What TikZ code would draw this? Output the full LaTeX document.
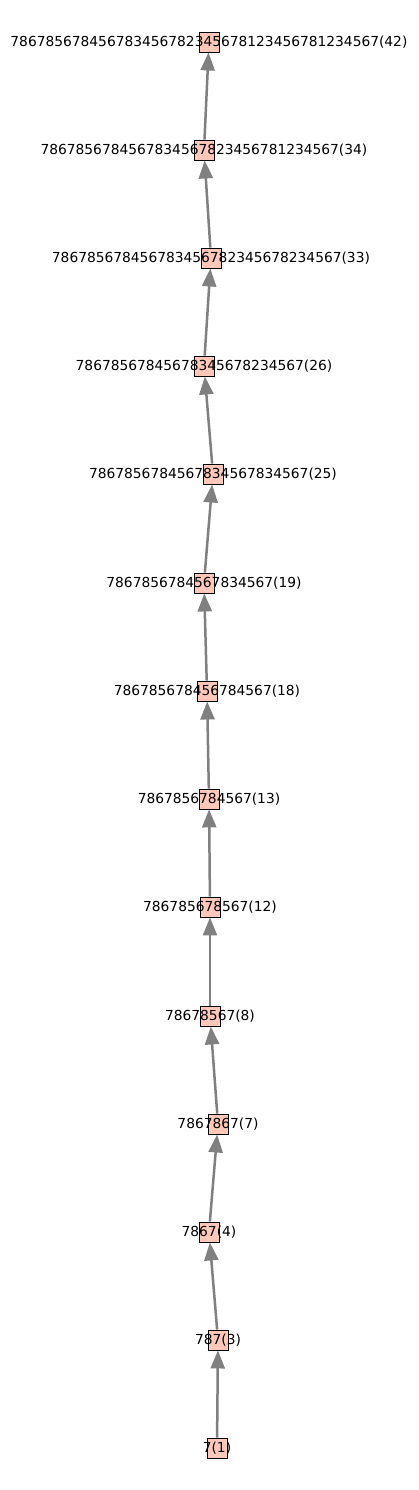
\documentclass[tikz,border=0pt]{standalone}
\usepackage{fontspec}
\setmainfont{DejaVu Sans}
\usetikzlibrary{arrows.meta}
\definecolor{boxfill}{RGB}{255,200,185}
\begin{document}
\begin{tikzpicture}[x=1pt, y=-1pt,
	vtx/.style={draw=black, fill=boxfill, line width=0.9pt, minimum size=20pt, inner sep=0pt},
	lbl/.style={font=\fontsize{13.8}{16}\selectfont, inner sep=0pt},
	edge/.style={draw=gray, line width=2.5pt, -{Triangle[width=14pt, length=18pt]}}]
	\useasboundingbox (0,0) rectangle (418,1490);
	
	\node[vtx, label={[lbl]center:7(1)}] (n1) at (217, 1448) {};
	\node[vtx, label={[lbl]center:787(3)}] (n3) at (218, 1340) {};
	\node[vtx, label={[lbl]center:7867(4)}] (n4) at (209, 1232) {};
	\node[vtx, label={[lbl]center:7867867(7)}] (n7) at (218, 1124) {};
	\node[vtx, label={[lbl]center:78678567(8)}] (n8) at (210, 1016) {};
	\node[vtx, label={[lbl]center:786785678567(12)}] (n12) at (210, 907) {};
	\node[vtx, label={[lbl]center:7867856784567(13)}] (n13) at (209, 799) {};
	\node[vtx, label={[lbl]center:786785678456784567(18)}] (n18) at (207, 691) {};
	\node[vtx, label={[lbl]center:7867856784567834567(19)}] (n19) at (204, 583) {};
	\node[vtx, label={[lbl]center:7867856784567834567834567(25)}] (n25) at (213, 474) {};
	\node[vtx, label={[lbl]center:78678567845678345678234567(26)}] (n26) at (204, 366) {};
	\node[vtx, label={[lbl]center:786785678456783456782345678234567(33)}] (n33) at (211, 258) {};
	\node[vtx, label={[lbl]center:7867856784567834567823456781234567(34)}] (n34) at (204, 150) {};
	\node[vtx, label={[lbl]center:786785678456783456782345678123456781234567(42)}] (n42) at (209, 42) {};
	
	\draw[edge] (n1) -- (n3);
	\draw[edge] (n3) -- (n4);
	\draw[edge] (n4) -- (n7);
	\draw[edge] (n7) -- (n8);
	\draw[edge] (n8) -- (n12);
	\draw[edge] (n12) -- (n13);
	\draw[edge] (n13) -- (n18);
	\draw[edge] (n18) -- (n19);
	\draw[edge] (n19) -- (n25);
	\draw[edge] (n25) -- (n26);
	\draw[edge] (n26) -- (n33);
	\draw[edge] (n33) -- (n34);
	\draw[edge] (n34) -- (n42);
\end{tikzpicture}
\end{document}
